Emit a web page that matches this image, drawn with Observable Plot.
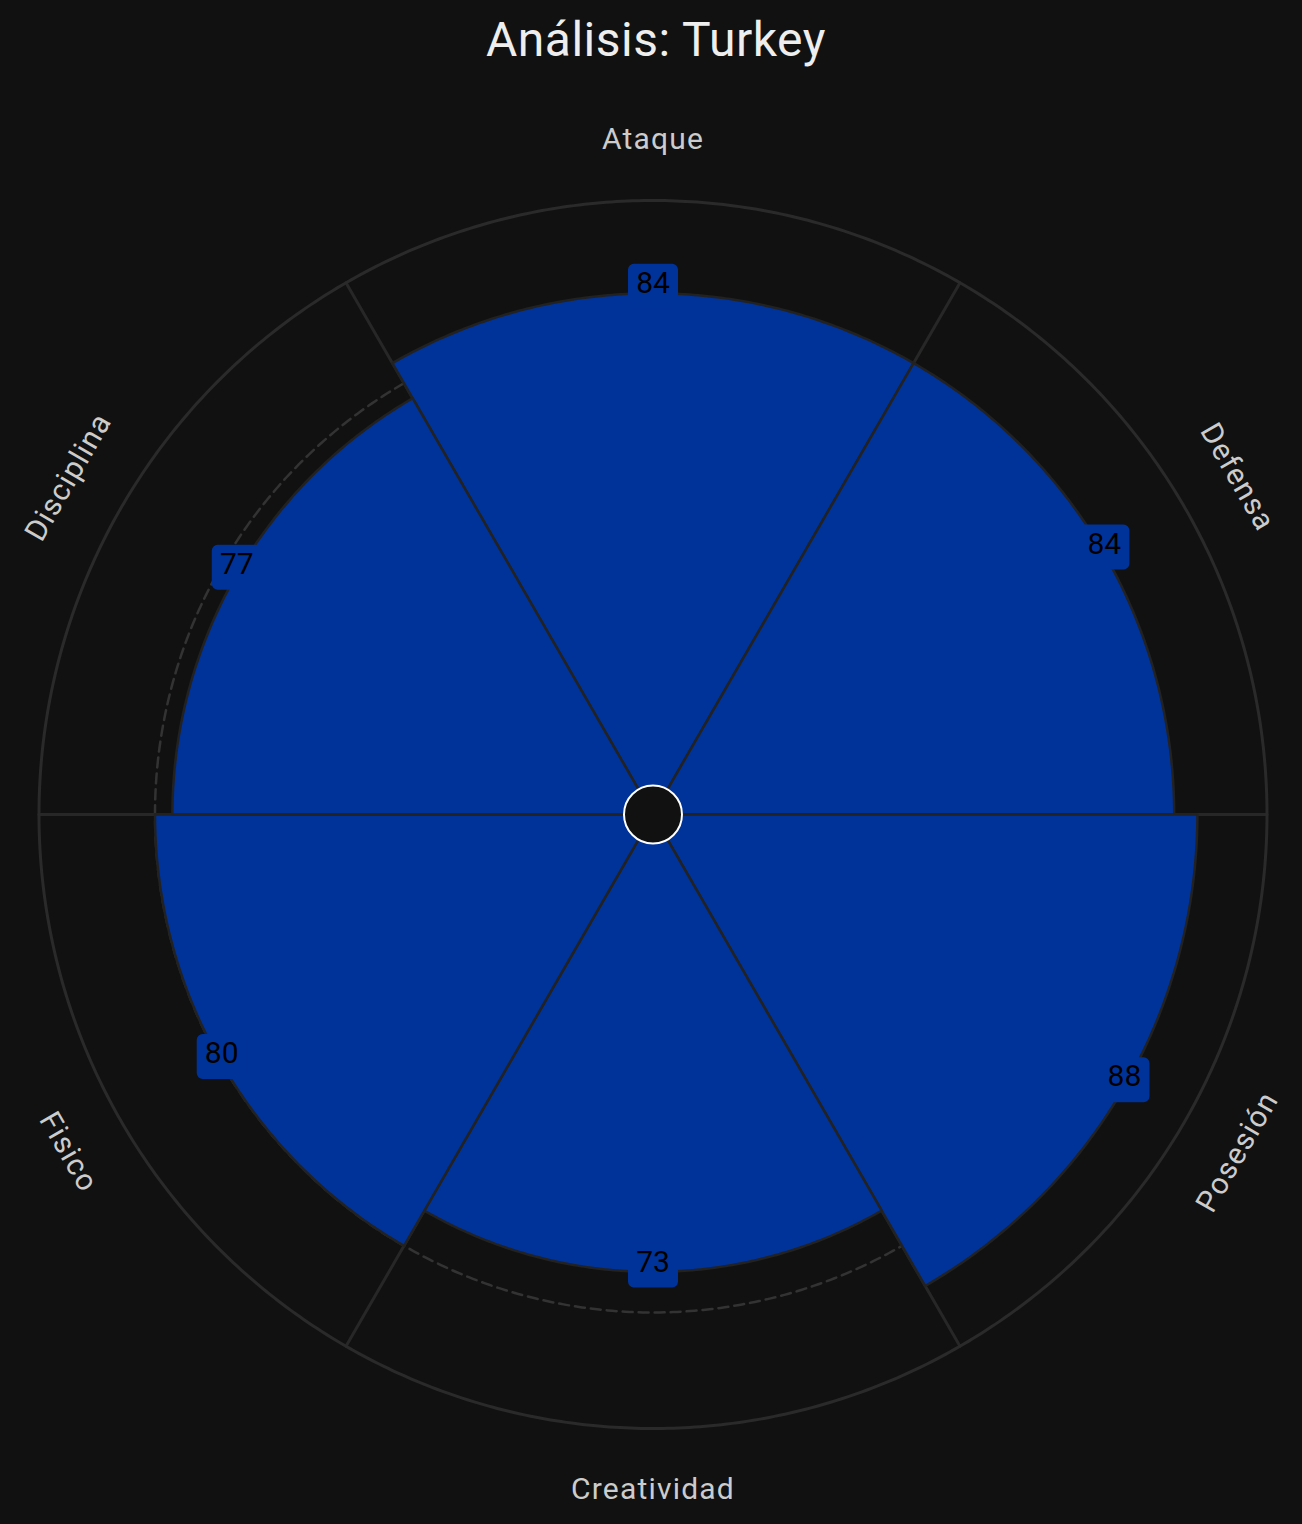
<!DOCTYPE html>
<html>
<head>
<meta charset="utf-8">
<script src="https://cdn.jsdelivr.net/npm/d3@7"></script>
<script src="https://cdn.jsdelivr.net/npm/@observablehq/plot@0.6"></script>
<style>
  html, body { margin: 0; padding: 0; background: #111111; overflow: hidden; }
  #title { height: 80px; line-height: 80px; text-align: center; color: #eeeeee; padding-left: 10px;
           font-family: Roboto, sans-serif; font-size: 48px; font-weight: 400; letter-spacing: 0.5px; }
  #chart svg { display: block; }
  #chart text[aria-label] { letter-spacing: 1.2px; }
</style>
</head>
<body>
<div id="title">Análisis: Turkey</div>
<div id="chart"></div>
<script>
// ---- data ----
const categories = ["Ataque", "Defensa", "Posesión", "Creatividad", "Fisico", "Disciplina"];
const values = [84, 84, 88, 73, 80, 77];
const referenceValue = 80;   // dashed reference ring
const maxValue = 100;        // outer ring
const labelValue = 110.5;    // where category names sit (value units)

// ---- geometry helpers (polar -> lon/lat for azimuthal projection) ----
const n = categories.length;
const step = 360 / n;
const r = d3.scaleLinear().domain([0, 100]).range([3.4, 61.4]); // angular distance from centre (deg)
const lonOf = (theta) => (((180 - theta) % 360) + 540) % 360 - 180;

const data = categories.map((c, i) => ({category: c, value: values[i], theta: i * step}));

function sector(d) {
  const ring = [];
  const t0 = d.theta - step / 2, t1 = d.theta + step / 2;
  for (let t = t0; t <= t1 + 1e-9; t += 0.5) ring.push([lonOf(t), 90 - r(d.value)]);
  for (let t = t1; t >= t0 - 1e-9; t -= 0.5) ring.push([lonOf(t), 90 - 0.05]);
  ring.push(ring[0]);
  return {type: "Feature", properties: d, geometry: {type: "Polygon", coordinates: [ring]}};
}
const sectors = data.map(sector);

const spokes = data.map(d => {
  const t = d.theta + step / 2;
  return {type: "LineString", coordinates: [[lonOf(t), 90], [lonOf(t), 90 - r(maxValue)]]};
});

const outer = d3.geoCircle().center([0, 90]).radius(r(maxValue)).precision(0.5)();
const refRing = d3.geoCircle().center([0, 90]).radius(r(referenceValue)).precision(0.5)();

const labelRotate = (theta) => theta <= 90 ? theta : theta < 270 ? theta - 180 : theta - 360;

// rounded box symbol for value labels
const roundedBox = {
  draw(ctx) {
    const w = 50, h = 45, k = 6, x0 = -w / 2, y0 = -h / 2, x1 = w / 2, y1 = h / 2;
    ctx.moveTo(x0 + k, y0);
    ctx.lineTo(x1 - k, y0);
    ctx.arcTo(x1, y0, x1, y0 + k, k);
    ctx.lineTo(x1, y1 - k);
    ctx.arcTo(x1, y1, x1 - k, y1, k);
    ctx.lineTo(x0 + k, y1);
    ctx.arcTo(x0, y1, x0, y1 - k, k);
    ctx.lineTo(x0, y0 + k);
    ctx.arcTo(x0, y0, x0 + k, y0, k);
    ctx.closePath();
  }
};

const chart = Plot.plot({
  width: 1302,
  height: 1444,
  marginLeft: 38.5,
  marginRight: 35.5,
  marginTop: 120,
  marginBottom: 96,
  projection: {type: "azimuthal-equidistant", rotate: [0, -90], domain: outer, clip: false},
  style: {background: "transparent", fontFamily: "Roboto, sans-serif"},
  marks: [
    Plot.geo(refRing, {fill: "none", stroke: "#333333", strokeWidth: 2.5, strokeDasharray: "10,6"}),
    Plot.geo(spokes, {stroke: "#272727", strokeWidth: 3}),
    Plot.geo(outer, {fill: "none", stroke: "#2a2a2a", strokeWidth: 3}),
    Plot.geo(sectors, {fill: "#003399", stroke: "#222222", strokeWidth: 2.5}),
    Plot.dot(data, {
      x: d => lonOf(d.theta), y: d => 90 - r(d.value),
      symbol: roundedBox, r: 10, fill: "#003399", stroke: "none", dy: -7
    }),
    Plot.text(data, {
      x: d => lonOf(d.theta), y: d => 90 - r(d.value),
      text: d => String(d.value), fontSize: 30, fill: "#000000", dy: -10
    }),
    Plot.dot([0], {x: () => 0, y: () => 90, r: 29, fill: "#111111", stroke: "#ffffff", strokeWidth: 2}),
    Plot.text(data, {
      x: d => lonOf(d.theta), y: d => 90 - r(labelValue),
      text: "category", rotate: d => labelRotate(d.theta),
      fontSize: 30, fill: "#cccccc", ariaLabel: "category"
    })
  ]
});
document.getElementById("chart").appendChild(chart);
</script>
</body>
</html>
